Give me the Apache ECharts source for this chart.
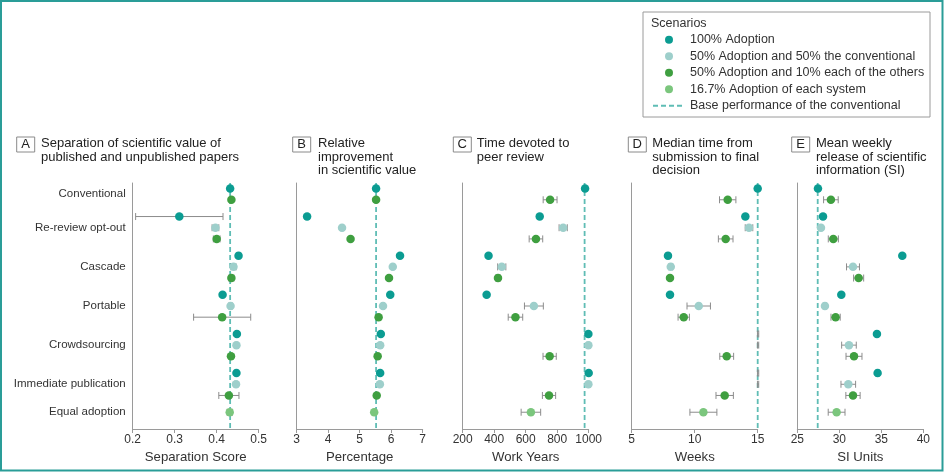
<!DOCTYPE html>
<html><head><meta charset="utf-8">
<script src="https://cdn.jsdelivr.net/npm/echarts@6/dist/echarts.min.js"></script>
<style>html,body{margin:0;padding:0;background:#fff}#c{width:944px;height:472px}</style>
</head><body><div id="c"></div>
<script>
// ---------- data ----------
const categories = ['Conventional', 'Re-review opt-out', 'Cascade', 'Portable', 'Crowdsourcing', 'Immediate publication'];
const equalLabel = 'Equal adoption';
const scenarioNames = ['100% Adoption', '50% Adoption and 50% the conventional', '50% Adoption and 10% each of the others', '16.7% Adoption of each system'];
const baseName = 'Base performance of the conventional';

// A: Separation Score
const sep100 = [0.432, 0.311, 0.452, 0.414, 0.448, 0.447];
const sep100Err = [0.002, 0.104, 0.005, 0.003, 0.003, 0.003];
const sep5050 = [null, 0.397, 0.440, 0.433, 0.447, 0.446];
const sep5050Err = [null, 0.008, 0.006, 0.004, 0.003, 0.003];
const sep5010 = [0.435, 0.400, 0.435, 0.413, 0.434, 0.429];
const sep5010Err = [0.003, 0.008, 0.006, 0.068, 0.003, 0.024];
const sepEqual = 0.431, sepEqualErr = 0.006, sepBase = 0.432;

// B: Percentage
const imp100 = [5.52, 3.33, 6.28, 5.97, 5.67, 5.65];
const imp100Err = [0.03, 0.03, 0.03, 0.03, 0.03, 0.03];
const imp5050 = [null, 4.44, 6.05, 5.74, 5.65, 5.64];
const imp5050Err = [null, 0.03, 0.03, 0.03, 0.03, 0.03];
const imp5010 = [5.52, 4.71, 5.93, 5.60, 5.57, 5.54];
const imp5010Err = [0.03, 0.03, 0.03, 0.03, 0.03, 0.03];
const impEqual = 5.46, impEqualErr = 0.03, impBase = 5.52;

// C: Work Years
const work100 = [977, 689, 364, 352, 998, 1000];
const work100Err = [5, 5, 5, 5, 5, 5];
const work5050 = [null, 838, 448, 652, 998, 998];
const work5050Err = [null, 26, 26, 60, 8, 8];
const work5010 = [755, 665, 424, 535, 752, 748];
const work5010Err = [44, 43, 15, 46, 42, 42];
const workEqual = 633, workEqualErr = 62, workBase = 974;

// D: Weeks
const weeks100 = [15.0, 14.02, 7.88, 8.04, 15.03, 15.03];
const weeks100Err = [0.05, 0.05, 0.15, 0.05, 0.05, 0.05];
const weeks5050 = [null, 14.31, 8.10, 10.32, 15.03, 15.03];
const weeks5050Err = [null, 0.3, 0.15, 0.93, 0.05, 0.05];
const weeks5010 = [12.62, 12.46, 8.04, 9.13, 12.54, 12.38];
const weeks5010Err = [0.65, 0.58, 0.05, 0.45, 0.55, 0.69];
const weeksEqual = 10.69, weeksEqualErr = 1.07, weeksBase = 15.0;

// E: SI Units
const si100 = [27.46, 28.06, 37.5, 30.24, 34.48, 34.56];
const si100Err = [0.1, 0.2, 0.1, 0.1, 0.2, 0.2];
const si5050 = [null, 27.82, 31.63, 28.29, 31.15, 31.07];
const si5050Err = [null, 0.1, 0.77, 0.2, 0.87, 0.87];
const si5010 = [29.0, 29.29, 32.3, 29.56, 31.75, 31.63];
const si5010Err = [0.87, 0.6, 0.6, 0.55, 0.95, 0.85];
const siEqual = 29.68, siEqualErr = 1.0, siBase = 27.43;

const panelLetters = ['A', 'B', 'C', 'D', 'E'];
const panelTitles = [
  'Separation of scientific value of\npublished and unpublished papers',
  'Relative\nimprovement\nin scientific value',
  'Time devoted to\npeer review',
  'Median time from\nsubmission to final\ndecision',
  'Mean weekly\nrelease of scientific\ninformation (SI)'
];
const axisNames = ['Separation Score', 'Percentage', 'Work Years', 'Weeks', 'SI Units'];
const axisMin = [0.2, 3, 200, 5, 25];
const axisMax = [0.5, 7, 1000, 15, 40];
const axisStep = [0.1, 1, 200, 5, 5];

const panelData = [
  [sep100, sep100Err, sep5050, sep5050Err, sep5010, sep5010Err, sepEqual, sepEqualErr, sepBase],
  [imp100, imp100Err, imp5050, imp5050Err, imp5010, imp5010Err, impEqual, impEqualErr, impBase],
  [work100, work100Err, work5050, work5050Err, work5010, work5010Err, workEqual, workEqualErr, workBase],
  [weeks100, weeks100Err, weeks5050, weeks5050Err, weeks5010, weeks5010Err, weeksEqual, weeksEqualErr, weeksBase],
  [si100, si100Err, si5050, si5050Err, si5010, si5010Err, siEqual, siEqualErr, siBase]
];

// ---------- layout (row positions on the vertical value scale) ----------
const FONT = '"Liberation Sans", Arial, Helvetica, sans-serif';
const colors = ['#0b9c92', '#9ecfcb', '#3f9f40', '#7bc67d'];
const baseColor = '#5fbdb5';
const rowSlots = [[], [], []]; // per scenario, per category
const labelMap = {};
let pos = 0;
categories.forEach((c, ci) => {
  const present = [0, 1, 2].filter(s => panelData[0][s * 2][ci] !== null);
  const start = pos;
  [0, 1, 2].forEach(s => {
    if (present.includes(s)) { rowSlots[s][ci] = pos; pos += 2; } else rowSlots[s][ci] = null;
  });
  labelMap[Math.round((start + pos - 2) / 2)] = c;
  pos += 1;
});
const equalSlot = pos;
labelMap[equalSlot] = equalLabel;

const gridLefts = [132.7, 296.7, 462.7, 631.7, 797.3];
const gridTop = 183, gridH = 246, gridW = 126;

const grids = [], xAxes = [], yAxes = [], series = [], graphics = [];
panelData.forEach((pd, i) => {
  grids.push({ left: gridLefts[i], top: gridTop, width: gridW, height: gridH, containLabel: false });
  xAxes.push({
    type: 'value', gridIndex: i, min: axisMin[i], max: axisMax[i], interval: axisStep[i], position: 'bottom',
    axisLine: { show: true, onZero: false, lineStyle: { color: '#9a9a9a', width: 1 } },
    axisTick: { show: true, length: 4, lineStyle: { color: '#9a9a9a' } },
    splitLine: { show: false },
    axisLabel: { fontFamily: FONT, fontSize: 12, color: '#333', margin: 5, formatter: v => String(+v.toFixed(6)) },
    name: axisNames[i], nameLocation: 'middle', nameGap: 20,
    nameTextStyle: { fontFamily: FONT, fontSize: 13.2, color: '#333' }
  });
  yAxes.push({
    type: 'value', gridIndex: i, min: -1, max: 43, interval: 1, inverse: true, position: 'left',
    axisLine: { show: true, onZero: false, lineStyle: { color: '#9a9a9a', width: 1 } },
    axisTick: { show: false }, splitLine: { show: false },
    axisLabel: i === 0 ? { show: true, fontFamily: FONT, fontSize: 11.5, color: '#333', margin: 7, formatter: v => labelMap[v] || '' } : { show: false }
  });
  // base line
  series.push({
    type: 'line', name: baseName, xAxisIndex: i, yAxisIndex: i, data: [[pd[8], -1], [pd[8], 43]],
    symbol: 'none', silent: true, z: 1, animation: false,
    lineStyle: { color: baseColor, width: 1.8, type: [5, 3] }, itemStyle: { color: baseColor }
  });
  // error bars
  const errData = [];
  [0, 1, 2].forEach(s => {
    pd[s * 2].forEach((v, ci) => {
      if (v !== null && pd[s * 2 + 1][ci]) errData.push([v, rowSlots[s][ci], pd[s * 2 + 1][ci]]);
    });
  });
  errData.push([pd[6], equalSlot, pd[7]]);
  series.push({
    type: 'custom', xAxisIndex: i, yAxisIndex: i, data: errData, z: 2, silent: true, animation: false,
    encode: { x: 0, y: 1 },
    renderItem: (params, api) => {
      const x = api.value(0), y = api.value(1), e = api.value(2);
      const p1 = api.coord([x - e, y]), p2 = api.coord([x + e, y]);
      const st = { stroke: '#8c8c8c', lineWidth: 1 };
      return { type: 'group', children: [
        { type: 'line', shape: { x1: p1[0], y1: p1[1], x2: p2[0], y2: p2[1] }, style: st },
        { type: 'line', shape: { x1: p1[0], y1: p1[1] - 3.5, x2: p1[0], y2: p1[1] + 3.5 }, style: st },
        { type: 'line', shape: { x1: p2[0], y1: p2[1] - 3.5, x2: p2[0], y2: p2[1] + 3.5 }, style: st }
      ] };
    }
  });
  // markers
  [0, 1, 2].forEach(s => {
    const d = [];
    pd[s * 2].forEach((v, ci) => { if (v !== null) d.push([v, rowSlots[s][ci]]); });
    series.push({
      type: 'scatter', name: scenarioNames[s], xAxisIndex: i, yAxisIndex: i, data: d,
      symbol: 'circle', symbolSize: 8.5, z: 3, itemStyle: { color: colors[s], opacity: 1 }, animation: false
    });
  });
  series.push({
    type: 'scatter', name: scenarioNames[3], xAxisIndex: i, yAxisIndex: i, data: [[pd[6], equalSlot]],
    symbol: 'circle', symbolSize: 8.5, z: 3, itemStyle: { color: colors[3], opacity: 1 }, animation: false
  });
});

// panel titles
const boxX = [16.7, 292.7, 453.3, 628.3, 791.7];
const titleX = [41, 318, 476.7, 652.3, 816];
panelLetters.forEach((L, i) => {
  graphics.push({ type: 'rect', shape: { x: boxX[i], y: 137, width: 18, height: 15 }, style: { fill: '#fff', stroke: '#8a8a8a', lineWidth: 1 } });
  graphics.push({ type: 'text', style: { text: L, x: boxX[i] + 9, y: 144.8, align: 'center', verticalAlign: 'middle', font: '13px ' + FONT, fill: '#222' } });
  graphics.push({ type: 'text', style: { text: panelTitles[i], x: titleX[i], y: 137, verticalAlign: 'top', font: '13px ' + FONT, lineHeight: 13.5, fill: '#222' } });
});
// legend frame + title
graphics.push({ type: 'rect', shape: { x: 643, y: 12, width: 287, height: 105 }, style: { fill: 'none', stroke: '#9a9a9a', lineWidth: 1 } });
graphics.push({ type: 'text', style: { text: 'Scenarios', x: 651, y: 23.5, verticalAlign: 'middle', font: '12.5px ' + FONT, fill: '#333' } });
// outer frame
graphics.push({ type: 'rect', shape: { x: 1, y: 1, width: 941.5, height: 469.5 }, style: { fill: 'none', stroke: '#2a9d98', lineWidth: 2 } });

const chart = echarts.init(document.getElementById('c'), null, { renderer: 'canvas' });
chart.setOption({
  backgroundColor: '#fff',
  animation: false,
  grid: grids, xAxis: xAxes, yAxis: yAxes, series: series,
  legend: {
    data: scenarioNames.concat([{ name: baseName, itemStyle: { opacity: 0, borderWidth: 0 } }]),
    orient: 'vertical', left: 652, top: 31.5,
    itemWidth: 32, itemHeight: 8, itemGap: 0, selectedMode: false, padding: 0,
    textStyle: { fontFamily: FONT, fontSize: 12.5, color: '#333', lineHeight: 16.5 }
  },
  graphic: graphics
});
</script>
</body></html>
